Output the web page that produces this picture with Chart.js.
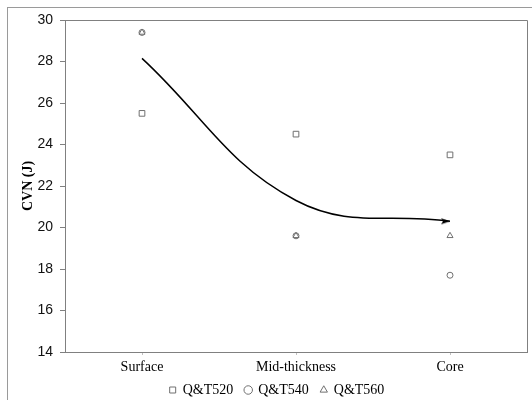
<!DOCTYPE html>
<html>
<head>
<meta charset="utf-8">
<script src="https://cdn.jsdelivr.net/npm/chart.js@4"></script>
<style>
  html, body { margin: 0; padding: 0; background: #fff; }
  #wrap { position: absolute; left: 0; top: 0; width: 532px; height: 400px; }
</style>
</head>
<body>
<div id="wrap"><canvas id="c" width="532" height="400"></canvas></div>
<script>
const categories = ['Surface', 'Mid-thickness', 'Core'];
const qt520 = [25.5, 24.5, 23.5];
const qt540 = [29.4, 19.6, 17.7];
const qt560 = [29.4, 19.6, 19.6];
const trend = [28.15, 21.3, 20.3];
const yTicks = { min: 14, max: 30, step: 2 };

const gray = '#808080';
const markerColor = '#707070';

// arrowhead image (tip at the image centre)
const arrow = document.createElement('canvas');
arrow.width = 24; arrow.height = 10;
(function () {
  const g = arrow.getContext('2d');
  g.fillStyle = '#000';
  g.beginPath();
  g.moveTo(12, 5);
  g.lineTo(3, 2);
  g.lineTo(5, 5);
  g.lineTo(3, 8);
  g.closePath();
  g.fill();
})();

const frame = {
  id: 'frame',
  afterLayout(chart) {
    const lg = chart.legend;
    if (lg) {
      lg.top -= 6; lg.bottom -= 6;
      lg.left += 13; lg.right += 13;
    }
  },
  beforeDraw(chart) {
    const ctx = chart.ctx;
    ctx.save();
    ctx.strokeStyle = '#9a9a9a';
    ctx.lineWidth = 1;
    ctx.strokeRect(7.5, 7.5, 540, 420);
    ctx.restore();
  },
  afterDatasetsDraw(chart) {
    const a = chart.chartArea;
    const ctx = chart.ctx;
    ctx.save();
    ctx.strokeStyle = gray;
    ctx.lineWidth = 1;
    ctx.beginPath();
    ctx.moveTo(a.left, Math.round(a.top) + 0.5);
    ctx.lineTo(Math.round(a.right) + 0.5, Math.round(a.top) + 0.5);
    ctx.lineTo(Math.round(a.right) + 0.5, a.bottom);
    ctx.stroke();
    ctx.restore();
  }
};

new Chart(document.getElementById('c'), {
  type: 'line',
  data: {
    labels: categories,
    datasets: [
      {
        label: 'trend',
        data: trend,
        borderColor: '#000',
        borderWidth: 1.5,
        tension: 0.4,
        fill: false,
        pointRadius: [0, 0, 3],
        pointStyle: arrow,
        pointHoverRadius: 0,
        order: 0
      },
      {
        label: 'Q&T520',
        data: qt520,
        showLine: false,
        pointStyle: 'rect',
        pointRadius: 4,
        borderColor: markerColor,
        backgroundColor: '#fff',
        pointBorderWidth: 1,
        borderWidth: 1,
        order: 3
      },
      {
        label: 'Q&T540',
        data: qt540,
        showLine: false,
        pointStyle: 'circle',
        pointRadius: 3,
        borderColor: markerColor,
        backgroundColor: '#fff',
        pointBorderWidth: 1,
        borderWidth: 1,
        order: 2
      },
      {
        label: 'Q&T560',
        data: qt560,
        showLine: false,
        pointStyle: 'triangle',
        pointRadius: 3.5,
        borderColor: markerColor,
        backgroundColor: 'rgba(255,255,255,0)',
        pointBorderWidth: 1,
        borderWidth: 1,
        order: 1
      }
    ]
  },
  options: {
    responsive: false,
    animation: false,
    layout: { padding: { left: 0, right: 4, top: 20, bottom: -13 } },
    plugins: {
      tooltip: { enabled: false },
      legend: {
        position: 'bottom',
        labels: {
          usePointStyle: true,
          boxWidth: 6,
          boxHeight: 6,
          padding: 12,
          color: '#000',
          font: { family: 'Liberation Serif', size: 14 },
          filter: (item) => item.text !== 'trend',
          sort: (a, b) => a.text.localeCompare(b.text)
        }
      }
    },
    scales: {
      x: {
        offset: true,
        border: { color: gray, width: 1 },
        grid: { display: true, drawOnChartArea: false, drawTicks: true, tickLength: 3, color: '#c0c0c0' },
        ticks: { color: '#000', padding: 4, font: { family: 'Liberation Serif', size: 14 } },
        afterFit(s) { s.height = 25; }
      },
      y: {
        min: yTicks.min,
        max: yTicks.max,
        border: { color: gray, width: 1 },
        grid: { display: true, drawOnChartArea: false, drawTicks: true, tickLength: 5, color: gray },
        ticks: { stepSize: yTicks.step, color: '#111', padding: 7, font: { family: 'Liberation Sans', size: 14 } },
        title: {
          display: true,
          text: 'CVN (J)',
          color: '#000',
          font: { family: 'Liberation Serif', size: 14, weight: 'bold' },
          padding: { top: 20, bottom: 0 }
        },
        afterFit(s) { s.width = 65; }
      }
    }
  },
  plugins: [frame]
});
</script>
</body>
</html>
